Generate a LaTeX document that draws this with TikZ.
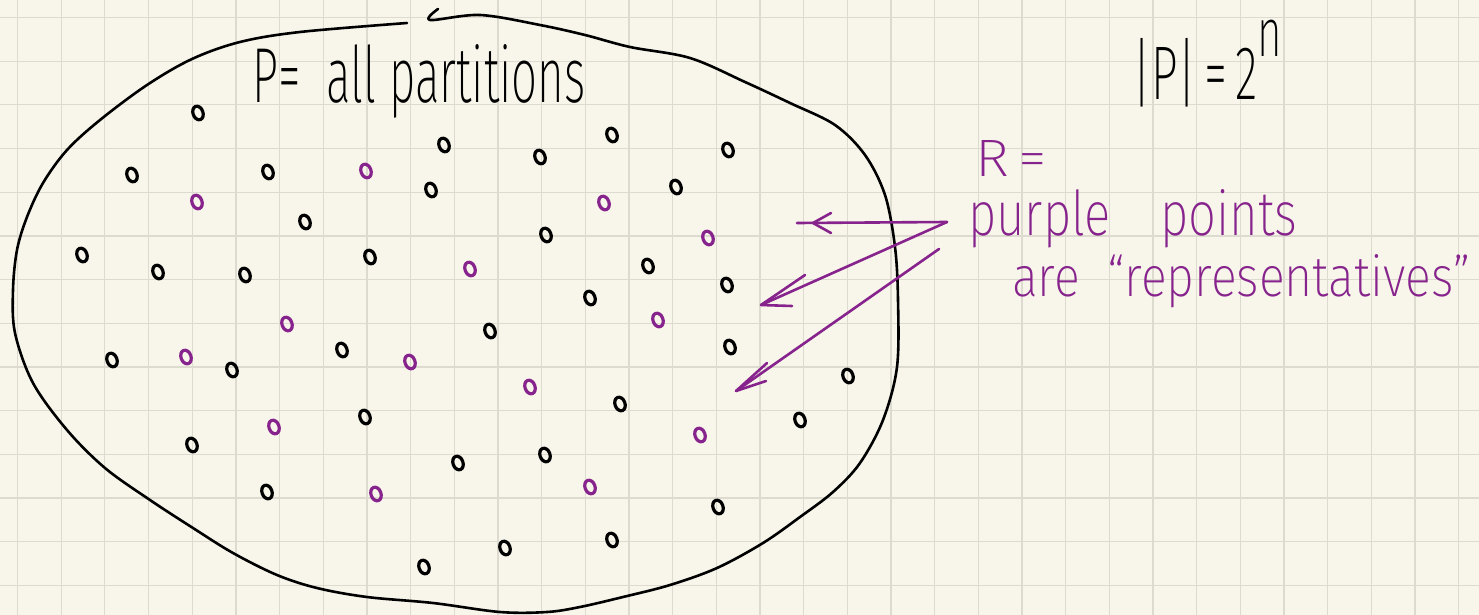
\documentclass[tikz,border=0pt]{standalone}
\usepackage{fontspec}
\setmainfont{Liberation Sans}
\IfFontExistsTF{Fira Sans ExtraLight}{\newfontfamily\handfont{Fira Sans ExtraLight}}{%
  \IfFontExistsTF{Fira Sans Light}{\newfontfamily\handfont{Fira Sans Light}}{%
    \IfFontExistsTF{Lato Light}{\newfontfamily\handfont{Lato Light}}{%
      \newfontfamily\handfont{Liberation Sans}}}}
\usetikzlibrary{shapes.geometric}
\definecolor{paper}{RGB}{248,246,234}
\definecolor{gridc}{RGB}{221,219,208}
\definecolor{purp}{RGB}{135,35,140}
\begin{document}
\begin{tikzpicture}[x=1pt,y=-1pt,
  outline/.style={line width=2.6pt, line cap=round, line join=round},
  gridline/.style={draw=gridc, line width=1.3pt},
  bdot/.style={draw=black, ellipse, line width=3.2pt, minimum width=10pt, minimum height=14pt, inner sep=0pt, rotate=20},
  pdot/.style={bdot, draw=purp},
  parrow/.style={draw=purp, line width=2.6pt, line cap=round, line join=round},
  hand/.style={inner sep=0pt, anchor=base west, font=\handfont}]
\fill[paper] (0,0) rectangle (1479,615);
\useasboundingbox (0,0) rectangle (1479,615);
\foreach \i in {0,...,33} \draw[gridline] ({17.5+43.67*\i},0) -- ({17.5+43.67*\i},615);
\foreach \j in {0,...,13} \draw[gridline] (0,{17.5+43.67*\j}) -- (1479,{17.5+43.67*\j});
% outline of the set P
\draw[outline] plot[smooth, tension=0.55] coordinates {
  (438,9) (430,20) (480,15) (540,25) (585,35) (630,47) (690,58) (745,82) (790,103)
  (835,125) (865,155) (885,195) (895,247) (898,300) (897,367) (883,420) (860,463)
  (833,492) (800,517) (763,543) (717,568) (670,585) (623,597) (580,607) (547,612)
  (500,612) (433,603) (367,597) (317,588) (277,575) (233,553) (193,528) (150,500)
  (105,468) (67,430) (33,383) (15,333) (13,290) (17,250) (27,217) (43,183) (67,150)
  (100,120) (147,85) (192,59) (240,42) (300,32) (407,23)};
% black points
\foreach \n/\x/\y in {b1/198/113, b2/132/175, b3/268/172, b4/444/145, b5/540/157,
  b6/612/135, b7/728/150, b8/431/190, b9/676/187, b10/305/222, b11/82/255,
  b12/546/235, b13/158/272, b14/245/275, b15/370/257, b16/648/266, b17/727/285,
  b18/590/298, b19/490/331, b20/112/360, b21/232/370, b22/342/350, b23/730/347,
  b24/848/376, b25/620/404, b26/365/417, b27/800/420, b28/192/445, b29/458/463,
  b30/545/455, b31/267/492, b32/718/507, b33/424/567, b34/505/548, b35/612/540}
  \node[bdot] (\n) at (\x,\y) {};
% purple points
\foreach \n/\x/\y in {p1/366/171, p2/197/202, p3/604/203, p4/708/238, p5/470/269,
  p6/287/324, p7/658/320, p8/186/357, p9/410/362, p10/530/387, p11/274/427,
  p12/700/435, p13/376/494, p14/590/487}
  \node[pdot] (\n) at (\x,\y) {};
% texts
\node[hand] (ptitle) at (252,103) {\resizebox{333pt}{58pt}{P=\ \ all partitions}};
\node[hand] (card) at (1132,100) {\resizebox{150pt}{80pt}{|P|\,=\,2\raisebox{1.1ex}{\small n}}};
\node[hand, text=purp] (rlab) at (975,176) {\resizebox{72pt}{36pt}{R\,=}};
\node[hand, text=purp] (pp) at (968,235) {\resizebox{329pt}{46pt}{purple\quad points}};
\node[hand, text=purp] (rep) at (1012,296) {\resizebox{458pt}{42pt}{are\ \ “representatives”}};
% arrows
\coordinate (s1) at (947,222);
\coordinate (e1) at (797,223);
\coordinate (t1) at (813,223);
\coordinate (h1a) at (831,213);
\coordinate (h1b) at (831,233);
\coordinate (t2) at (761,305);
\coordinate (h2a) at (805,275);
\coordinate (h2b) at (792,306);
\coordinate (s3) at (939,249);
\coordinate (t3) at (736,391);
\coordinate (h3a) at (767,363);
\coordinate (h3b) at (766,381);
\draw[parrow] (s1) -- (e1);
\draw[parrow] (h1a) -- (t1) -- (h1b);
\draw[parrow] (s1) -- (t2);
\draw[parrow] (h2a) -- (t2) -- (h2b);
\draw[parrow] (s3) -- (t3);
\draw[parrow] (h3a) -- (t3) -- (h3b);
\end{tikzpicture}
\end{document}
